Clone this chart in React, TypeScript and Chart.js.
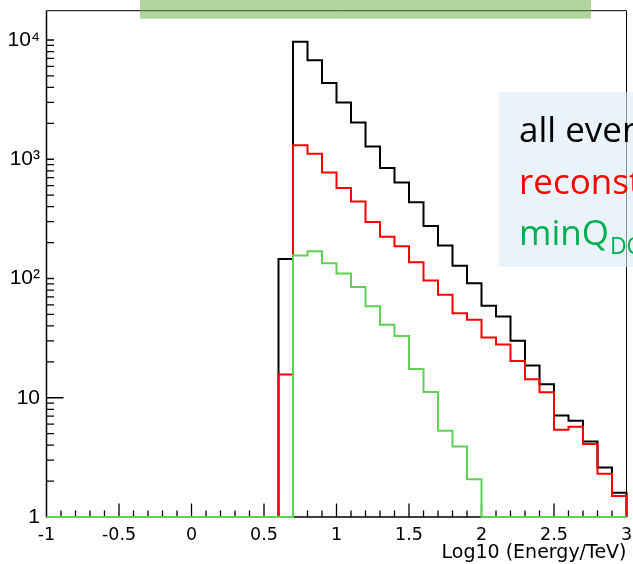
import React, { useEffect, useRef } from "react";
import { Chart, registerables } from "chart.js";

Chart.register(...registerables);

// ---- data -------------------------------------------------------------
const BIN_LOW_EDGES = [
  -1.0, -0.9, -0.8, -0.7, -0.6, -0.5, -0.4, -0.3, -0.2, -0.1,
  0.0, 0.1, 0.2, 0.3, 0.4, 0.5, 0.6, 0.7, 0.8, 0.9,
  1.0, 1.1, 1.2, 1.3, 1.4, 1.5, 1.6, 1.7, 1.8, 1.9,
  2.0, 2.1, 2.2, 2.3, 2.4, 2.5, 2.6, 2.7, 2.8, 2.9,
];
const BIN_WIDTH = 0.1;

const ALL_EVENTS = [
  0, 0, 0, 0, 0, 0, 0, 0, 0, 0,
  0, 0, 0, 0, 0, 0, 146, 9680, 6750, 4350,
  2995, 2030, 1280, 845, 637, 435, 275, 189, 128, 91,
  59, 48, 30, 18.6, 13, 7.1, 6.4, 4.3, 2.6, 1.6,
];
const RECONSTRUCTED = [
  0, 0, 0, 0, 0, 0, 0, 0, 0, 0,
  0, 0, 0, 0, 0, 0, 15.7, 1310, 1110, 773,
  574, 443, 297, 224, 186, 137, 96, 73, 51, 45,
  32, 28, 20.3, 14.3, 11.1, 5.4, 5.7, 4.1, 2.3, 1.5,
];
const MINQ_CUT = [
  0, 0, 0, 0, 0, 0, 0, 0, 0, 0,
  0, 0, 0, 0, 0, 0, 0, 156, 169, 134,
  110, 85, 58.5, 41, 33, 17.4, 11.2, 5.3, 3.9, 2.07,
  0, 0, 0, 0, 0, 0, 0, 0, 0, 0,
];

const X_MIN = -1;
const X_MAX = 3;
const X_TICKS = [-1, -0.5, 0, 0.5, 1, 1.5, 2, 2.5, 3];
const Y_MIN = 1;
const Y_MAX = 17600;
const Y_TICKS = [1, 10, 100, 1000, 10000];
const Y_TICK_LABELS = ["1", "10", "10\u00B2", "10\u00B3", "10\u2074"];
const X_TITLE = "Log10 (Energy/TeV)";

const LEGEND_LINES = ["all events", "reconstructed", "minQ"];
const LEGEND_SUB = "DOM";

const C_BLACK = "#000000";
const C_RED = "#ff0000";
const C_GREEN = "rgb(95,210,85)";
const C_TEXT_GREEN = "#00b050";

// ---- helpers -----------------------------------------------------------
function outline(counts: number[]) {
  const pts: { x: number; y: number }[] = [];
  counts.forEach((c, i) => {
    const lo = BIN_LOW_EDGES[i];
    const hi = lo + BIN_WIDTH;
    const y = Math.max(c, Y_MIN);
    pts.push({ x: lo, y }, { x: hi, y });
  });
  const last = BIN_LOW_EDGES[BIN_LOW_EDGES.length - 1] + BIN_WIDTH;
  pts.push({ x: last, y: Y_MIN });
  return pts;
}

const rootFrame = {
  id: "rootFrame",
  beforeDatasetsDraw(chart: any) {
    const { ctx, chartArea: a, scales } = chart;
    const x = scales.x;
    const y = scales.y;
    ctx.save();
    ctx.strokeStyle = "#000";
    // top & right frame
    ctx.lineWidth = 1;
    ctx.beginPath();
    ctx.moveTo(a.left, a.top);
    ctx.lineTo(a.right, a.top);
    ctx.lineTo(a.right, a.bottom);
    ctx.stroke();
    // axes
    ctx.lineWidth = 1.5;
    ctx.beginPath();
    ctx.moveTo(a.left, a.top);
    ctx.lineTo(a.left, a.bottom);
    ctx.lineTo(a.right, a.bottom);
    ctx.stroke();
    // x ticks (inside)
    ctx.lineWidth = 1.3;
    ctx.beginPath();
    for (let i = 1; i < 40; i++) {
      const v = X_MIN + i * 0.1;
      const major = i % 5 === 0;
      const px = x.getPixelForValue(v);
      ctx.moveTo(px, a.bottom);
      ctx.lineTo(px, a.bottom - (major ? 13.5 : 6.5));
    }
    ctx.stroke();
    // y ticks (inside)
    ctx.beginPath();
    for (const d of Y_TICKS) {
      for (let k = 1; k <= 9; k++) {
        const v = d * k;
        if (v <= Y_MIN || v > Y_MAX) continue;
        const py = y.getPixelForValue(v);
        const len = k === 1 && d === 10 ? 17 : 7.5;
        ctx.moveTo(a.left, py);
        ctx.lineTo(a.left + len, py);
      }
    }
    ctx.stroke();
    ctx.restore();
  },
  afterDraw(chart: any) {
    const { ctx } = chart;
    ctx.save();
    // legend box (slide overlay)
    ctx.fillStyle = "rgba(222,235,247,0.62)";
    ctx.fillRect(499, 92, 140, 175);
    ctx.textAlign = "left";
    ctx.textBaseline = "alphabetic";
    ctx.font = "35px 'Open Sans'";
    ctx.fillStyle = C_BLACK;
    ctx.fillText(LEGEND_LINES[0], 519, 141.5);
    ctx.fillStyle = C_RED;
    ctx.fillText(LEGEND_LINES[1], 519, 193.5);
    ctx.fillStyle = C_TEXT_GREEN;
    ctx.fillText(LEGEND_LINES[2], 519, 245);
    const w = ctx.measureText(LEGEND_LINES[2]).width;
    ctx.font = "23px 'Open Sans'";
    ctx.fillText(LEGEND_SUB, 519 + w + 1, 254);
    // title banner
    ctx.fillStyle = "rgba(112,173,71,0.52)";
    ctx.fillRect(140, 0, 451, 18.7);
    ctx.restore();
  },
};

export default function App() {
  const ref = useRef<HTMLCanvasElement | null>(null);
  useEffect(() => {
    if (!ref.current) return;
    const common = {
      borderWidth: 2,
      pointRadius: 0,
      pointHoverRadius: 0,
      tension: 0,
      fill: false,
      clip: false as any,
    };
    const chart = new Chart(ref.current, {
      type: "line",
      data: {
        datasets: [
          { label: "minQ", data: outline(MINQ_CUT), borderColor: C_GREEN, ...common },
          { label: "reconstructed", data: outline(RECONSTRUCTED), borderColor: C_RED, ...common },
          { label: "all events", data: outline(ALL_EVENTS), borderColor: C_BLACK, ...common },
        ],
      },
      options: {
        animation: false,
        responsive: false,
        devicePixelRatio: 1,
        layout: { padding: { left: 0, right: 6.5, top: 10.7, bottom: 0 } },
        plugins: {
          legend: { display: false },
          tooltip: { enabled: false },
        },
        scales: {
          x: {
            type: "linear",
            position: "bottom",
            min: X_MIN,
            max: X_MAX,
            afterBuildTicks: (s: any) => {
              s.ticks = X_TICKS.map((v) => ({ value: v }));
            },
            afterFit: (s: any) => {
              s.height = 47;
              s.paddingLeft = 0;
              s.paddingRight = 0;
            },
            ticks: {
              autoSkip: false,
              maxRotation: 0,
              minRotation: 0,
              padding: 8,
              color: "#000",
              font: { family: "DejaVu Sans", size: 17.5 },
              callback: (v: any) => String(v),
            },
            grid: { display: false, drawTicks: false },
            border: { display: false },
            title: {
              display: true,
              text: X_TITLE,
              align: "end",
              color: "#000",
              font: { family: "DejaVu Sans", size: 19 },
              padding: { top: 0, bottom: 0 },
            },
          },
          y: {
            type: "logarithmic",
            min: Y_MIN,
            max: Y_MAX,
            afterBuildTicks: (s: any) => {
              s.ticks = Y_TICKS.map((v) => ({ value: v }));
            },
            afterFit: (s: any) => {
              s.width = 46.5;
              s.paddingTop = 0;
              s.paddingBottom = 0;
            },
            ticks: {
              autoSkip: false,
              padding: 6.5,
              color: "#000",
              font: { family: "Liberation Sans", size: 21 },
              callback: (v: any) => {
                const i = Y_TICKS.indexOf(Number(v));
                return i >= 0 ? Y_TICK_LABELS[i] : "";
              },
            },
            grid: { display: false, drawTicks: false },
            border: { display: false },
          },
        },
      },
      plugins: [rootFrame],
    } as any);
    return () => chart.destroy();
  }, []);

  return (
    <div
      style={{
        position: "fixed",
        left: 0,
        top: 0,
        width: 633,
        height: 564,
        overflow: "hidden",
        background: "#fff",
      }}
    >
      <canvas ref={ref} width={633} height={564} style={{ display: "block" }} />
    </div>
  );
}
